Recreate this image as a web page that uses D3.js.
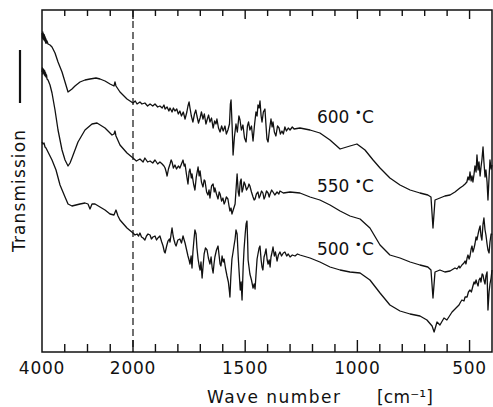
<!DOCTYPE html>
<html>
<head>
<meta charset="utf-8">
<script src="https://cdn.jsdelivr.net/npm/d3@7"></script>
<style>
  body { margin: 0; background: #fff; }
  text { font-family: "DejaVu Sans", sans-serif; fill: #111; }
</style>
</head>
<body>
<div id="chart"></div>
<script>
// IR spectra, [wavenumber cm-1, transmission (arbitrary units)]
const spec600 = [
  [4000, 319], [3990, 314], [3982, 320], [3974, 313], [3965, 318], [3956, 312], [3947, 317],
  [3938, 311], [3930, 315], [3920, 309], [3912, 313], [3900, 309], [3890, 311], [3868, 308],
  [3824, 307], [3780, 305], [3714, 299], [3648, 290], [3560, 280], [3494, 270], [3428, 260],
  [3341, 263], [3275, 266], [3165, 270], [3055, 272], [2945, 273], [2813, 274], [2725, 273],
  [2615, 271], [2505, 268], [2418, 266], [2396, 270], [2374, 266], [2286, 260], [2132, 253],
  [2000, 249], [1990, 251], [1982, 248], [1969, 250], [1960, 248], [1947, 249], [1935, 246],
  [1924, 248], [1912, 246], [1902, 248], [1890, 245], [1880, 246], [1870, 244], [1862, 247],
  [1857, 243], [1848, 245], [1840, 241], [1835, 244], [1826, 240], [1820, 244], [1813, 241],
  [1805, 243], [1798, 238], [1791, 241], [1784, 236], [1776, 240], [1768, 233], [1760, 240],
  [1755, 246], [1750, 250], [1746, 244], [1740, 236], [1733, 230], [1726, 238], [1720, 242],
  [1715, 236], [1708, 229], [1701, 234], [1695, 240], [1688, 233], [1682, 238], [1675, 228],
  [1670, 232], [1663, 237], [1657, 230], [1650, 234], [1643, 224], [1636, 231], [1630, 228],
  [1626, 233], [1619, 224], [1612, 220], [1605, 226], [1598, 221], [1590, 226], [1584, 218],
  [1577, 222], [1570, 228], [1566, 248], [1563, 252], [1558, 225], [1554, 197], [1548, 215],
  [1541, 228], [1535, 220], [1528, 236], [1523, 232], [1517, 222], [1510, 227], [1503, 214],
  [1496, 210], [1490, 226], [1485, 230], [1479, 222], [1472, 226], [1465, 211], [1458, 228],
  [1452, 240], [1447, 236], [1443, 247], [1438, 244], [1434, 251], [1429, 236], [1425, 230],
  [1419, 240], [1412, 243], [1407, 226], [1403, 213], [1398, 210], [1392, 222], [1385, 233],
  [1380, 225], [1376, 230], [1370, 220], [1363, 216], [1356, 226], [1349, 224], [1343, 218],
  [1336, 221], [1330, 218], [1323, 225], [1316, 221], [1308, 224], [1300, 222], [1290, 225],
  [1282, 223], [1256, 224], [1211, 222], [1167, 219], [1122, 212], [1077, 203], [1033, 206],
  [1002, 208], [966, 202], [930, 192], [899, 184], [855, 174], [810, 167], [765, 162],
  [721, 159], [686, 157], [672, 155], [663, 124], [654, 152], [632, 154], [610, 156],
  [587, 157], [565, 160], [543, 164], [530, 166], [520, 168], [512, 170], [507, 175],
  [502, 172], [498, 180], [493, 171], [489, 176], [485, 170], [480, 178], [476, 186],
  [471, 180], [467, 197], [462, 182], [458, 190], [453, 176], [449, 185], [445, 192],
  [440, 205], [436, 190], [431, 175], [427, 182], [422, 170], [418, 152], [413, 175],
  [409, 192], [404, 183], [400, 187]
];

const spec550 = [
  [4000, 280], [3990, 284], [3982, 278], [3974, 283], [3965, 279], [3956, 282], [3947, 277],
  [3938, 281], [3930, 276], [3920, 279], [3912, 275], [3900, 277], [3890, 273], [3868, 272],
  [3824, 267], [3780, 259], [3714, 242], [3648, 222], [3560, 202], [3494, 192], [3428, 186],
  [3384, 189], [3341, 194], [3209, 210], [3055, 222], [2901, 228], [2791, 229], [2615, 224],
  [2461, 217], [2418, 218], [2396, 221], [2374, 216], [2286, 207], [2132, 199], [2000, 194],
  [1985, 191], [1969, 193], [1955, 190], [1947, 194], [1935, 190], [1924, 191], [1912, 189],
  [1902, 192], [1890, 188], [1880, 190], [1870, 188], [1862, 186], [1857, 184], [1852, 180],
  [1848, 176], [1842, 183], [1835, 188], [1830, 192], [1826, 190], [1820, 184], [1813, 187],
  [1806, 183], [1798, 186], [1791, 184], [1784, 188], [1777, 192], [1772, 186], [1768, 188],
  [1762, 178], [1755, 168], [1750, 180], [1746, 183], [1740, 174], [1737, 178], [1730, 168],
  [1724, 162], [1718, 175], [1710, 185], [1705, 176], [1701, 181], [1695, 170], [1688, 165],
  [1683, 172], [1679, 171], [1672, 160], [1666, 157], [1661, 162], [1657, 154], [1650, 166],
  [1643, 168], [1638, 160], [1635, 164], [1628, 158], [1621, 153], [1616, 160], [1612, 158],
  [1605, 151], [1599, 154], [1594, 148], [1590, 150], [1584, 155], [1577, 153], [1572, 146],
  [1568, 141], [1563, 144], [1559, 138], [1552, 143], [1545, 148], [1540, 165], [1536, 178],
  [1531, 160], [1527, 156], [1522, 170], [1518, 173], [1514, 160], [1510, 163], [1505, 170],
  [1501, 168], [1494, 162], [1487, 165], [1483, 168], [1479, 166], [1472, 160], [1465, 155],
  [1460, 152], [1456, 153], [1450, 158], [1443, 160], [1438, 154], [1434, 156], [1427, 161],
  [1421, 159], [1416, 153], [1412, 155], [1405, 161], [1398, 159], [1393, 155], [1389, 158],
  [1382, 162], [1376, 160], [1368, 157], [1358, 160], [1350, 158], [1345, 161], [1330, 159],
  [1300, 160], [1256, 159], [1211, 155], [1167, 152], [1122, 147], [1077, 141], [1033, 136],
  [988, 133], [944, 124], [899, 107], [855, 97], [810, 94], [765, 90], [721, 87], [686, 85],
  [672, 82], [663, 54], [654, 80], [632, 82], [610, 80], [587, 81], [565, 84], [556, 83],
  [547, 86], [543, 84], [534, 87], [525, 89], [520, 91], [516, 88], [511, 94], [507, 97],
  [502, 93], [498, 96], [493, 103], [489, 106], [485, 100], [480, 104], [476, 108],
  [471, 115], [467, 112], [462, 118], [458, 122], [453, 126], [449, 116], [445, 112],
  [440, 128], [436, 134], [431, 122], [427, 117], [422, 108], [418, 102], [413, 99],
  [409, 110], [404, 118], [400, 117]
];

const spec500 = [
  [4000, 210], [3980, 208], [3956, 209], [3934, 205], [3912, 204], [3868, 200], [3780, 192],
  [3692, 182], [3604, 167], [3494, 155], [3428, 148], [3341, 146], [3253, 147], [3165, 148],
  [3055, 149], [2989, 148], [2945, 143], [2901, 148], [2835, 148], [2725, 145], [2615, 142],
  [2505, 138], [2418, 137], [2374, 142], [2330, 136], [2286, 132], [2132, 124], [2000, 119],
  [1991, 117], [1982, 118], [1975, 116], [1969, 119], [1962, 115], [1955, 114], [1947, 112],
  [1940, 116], [1933, 118], [1924, 117], [1918, 113], [1911, 115], [1902, 116], [1895, 112],
  [1889, 114], [1880, 116], [1872, 110], [1866, 106], [1860, 100], [1857, 99], [1850, 106],
  [1844, 111], [1838, 113], [1835, 110], [1830, 118], [1826, 124], [1821, 116], [1817, 112],
  [1812, 108], [1808, 106], [1800, 112], [1791, 113], [1784, 109], [1777, 116], [1772, 112],
  [1768, 109], [1762, 103], [1755, 96], [1750, 92], [1746, 88], [1741, 96], [1737, 84],
  [1733, 100], [1728, 113], [1724, 122], [1719, 118], [1715, 104], [1710, 93], [1705, 86],
  [1701, 82], [1697, 90], [1692, 74], [1688, 85], [1683, 98], [1677, 104], [1670, 102],
  [1664, 94], [1657, 88], [1652, 95], [1647, 84], [1643, 79], [1639, 88], [1635, 95],
  [1628, 102], [1621, 106], [1616, 96], [1612, 88], [1608, 86], [1603, 96], [1598, 90],
  [1594, 93], [1588, 84], [1581, 76], [1575, 70], [1570, 60], [1568, 55], [1564, 75],
  [1559, 93], [1554, 100], [1550, 106], [1545, 113], [1541, 122], [1536, 118], [1531, 95],
  [1527, 80], [1522, 62], [1518, 70], [1514, 52], [1509, 85], [1505, 103], [1500, 118],
  [1496, 128], [1492, 131], [1489, 110], [1487, 92], [1483, 85], [1479, 78], [1472, 72],
  [1465, 64], [1460, 68], [1456, 63], [1451, 80], [1447, 93], [1443, 98], [1438, 104],
  [1434, 106], [1429, 92], [1425, 85], [1421, 82], [1416, 95], [1412, 98], [1407, 103],
  [1402, 92], [1398, 88], [1393, 92], [1389, 85], [1385, 95], [1380, 100], [1376, 105],
  [1370, 96], [1365, 100], [1358, 91], [1352, 97], [1345, 100], [1338, 96], [1330, 99],
  [1323, 100], [1315, 96], [1308, 98], [1300, 95], [1290, 97], [1278, 96], [1267, 98],
  [1256, 97], [1211, 94], [1167, 90], [1122, 85], [1077, 82], [1033, 80], [988, 79],
  [944, 72], [899, 59], [855, 47], [810, 41], [765, 38], [721, 36], [690, 32], [667, 26],
  [658, 20], [645, 30], [632, 27], [614, 34], [601, 32], [578, 40], [556, 45], [547, 47],
  [540, 50], [534, 52], [525, 51], [520, 55], [511, 55], [505, 60], [498, 62], [492, 60],
  [485, 66], [480, 70], [476, 68], [471, 72], [467, 69], [462, 66], [458, 72], [453, 74],
  [449, 70], [444, 78], [440, 77], [436, 72], [431, 68], [427, 76], [422, 80], [418, 42],
  [413, 60], [409, 68], [404, 74], [400, 82]
];

const series = [spec600, spec550, spec500];
const seriesNames = ['600', '550', '500'];
const labelWn = 1180;
const labelT = [229, 160, 97];

const tickValues = [3500, 3000, 2500, 2000, 1900, 1800, 1700, 1600, 1500, 1400, 1300,
  1200, 1100, 1000, 900, 800, 700, 600, 500];
const tickLabels = [4000, 2000, 1500, 1000, 500];
const majorTicks = [2000, 1500, 1000, 500];

const width = 493, height = 407;

const svg = d3.select('#chart')
  .append('svg')
  .attr('width', width)
  .attr('height', height);

// split wavenumber axis: 4000-2000 compressed, 2000-400 expanded
const x = d3.scaleLinear().domain([4000, 2000, 400]).range([42, 133, 492]);
const y = d3.scaleLinear().domain([0, 342]).range([352, 10]);

const yBottom = y(0), yTop = y(342);

// tick marks, pointing inward from bottom and top edges
const ticks = svg.append('g').attr('stroke', '#111').attr('stroke-width', 1.4);
ticks.selectAll('.tb')
  .data(tickValues)
  .join('line')
  .attr('class', 'tb')
  .attr('x1', d => x(d)).attr('x2', d => x(d))
  .attr('y1', yBottom)
  .attr('y2', d => yBottom - (majorTicks.includes(d) ? 12 : 8));
ticks.selectAll('.tt')
  .data(tickValues)
  .join('line')
  .attr('class', 'tt')
  .attr('x1', d => x(d)).attr('x2', d => x(d))
  .attr('y1', yTop)
  .attr('y2', d => yTop + (majorTicks.includes(d) ? 9 : 6));

// tick labels
svg.append('g')
  .selectAll('text')
  .data(tickLabels)
  .join('text')
  .attr('x', d => x(d))
  .attr('y', 374)
  .attr('text-anchor', 'middle')
  .attr('font-size', 17)
  .attr('letter-spacing', 0.8)
  .text(d => d);

// frame
svg.append('rect')
  .attr('x', x(4000))
  .attr('y', yTop)
  .attr('width', x(400) - x(4000))
  .attr('height', yBottom - yTop)
  .attr('fill', 'none')
  .attr('stroke', '#111')
  .attr('stroke-width', 1.5);

// dashed split line at 2000
svg.append('line')
  .attr('x1', x(2000)).attr('x2', x(2000))
  .attr('y1', yTop).attr('y2', yBottom)
  .attr('stroke', '#111')
  .attr('stroke-width', 1.2)
  .attr('stroke-dasharray', '7,4');

const line = d3.line()
  .x(d => x(d[0]))
  .y(d => y(d[1]));

svg.append('g')
  .selectAll('path')
  .data(series)
  .join('path')
  .attr('d', line)
  .attr('fill', 'none')
  .attr('stroke', '#111')
  .attr('stroke-width', 1.3)
  .attr('stroke-linejoin', 'round');

// temperature labels
const labels = svg.append('g')
  .selectAll('text')
  .data(seriesNames)
  .join('text')
  .attr('x', x(labelWn))
  .attr('y', (d, i) => y(labelT[i]))
  .attr('font-size', 17);
labels.append('tspan').text(d => d + ' ');
labels.append('tspan').text('\u2022').attr('font-size', 12).attr('dy', -6);
labels.append('tspan').text('C').attr('dy', 6);

// y axis title and scale bar
svg.append('text')
  .attr('transform', 'translate(25,191) rotate(-90)')
  .attr('text-anchor', 'middle')
  .attr('font-size', 17)
  .attr('textLength', 122)
  .attr('lengthAdjust', 'spacing')
  .text('Transmission');

svg.append('line')
  .attr('x1', 20).attr('x2', 20)
  .attr('y1', 50).attr('y2', 103)
  .attr('stroke', '#111')
  .attr('stroke-width', 2.2);

// x axis title
svg.append('text')
  .attr('x', 207)
  .attr('y', 403)
  .attr('font-size', 17)
  .attr('textLength', 133)
  .attr('lengthAdjust', 'spacing')
  .text('Wave number');

svg.append('text')
  .attr('x', 377)
  .attr('y', 403)
  .attr('font-size', 17)
  .attr('textLength', 56)
  .attr('lengthAdjust', 'spacing')
  .text('[cm\u207B\u00B9]');
</script>
</body>
</html>
